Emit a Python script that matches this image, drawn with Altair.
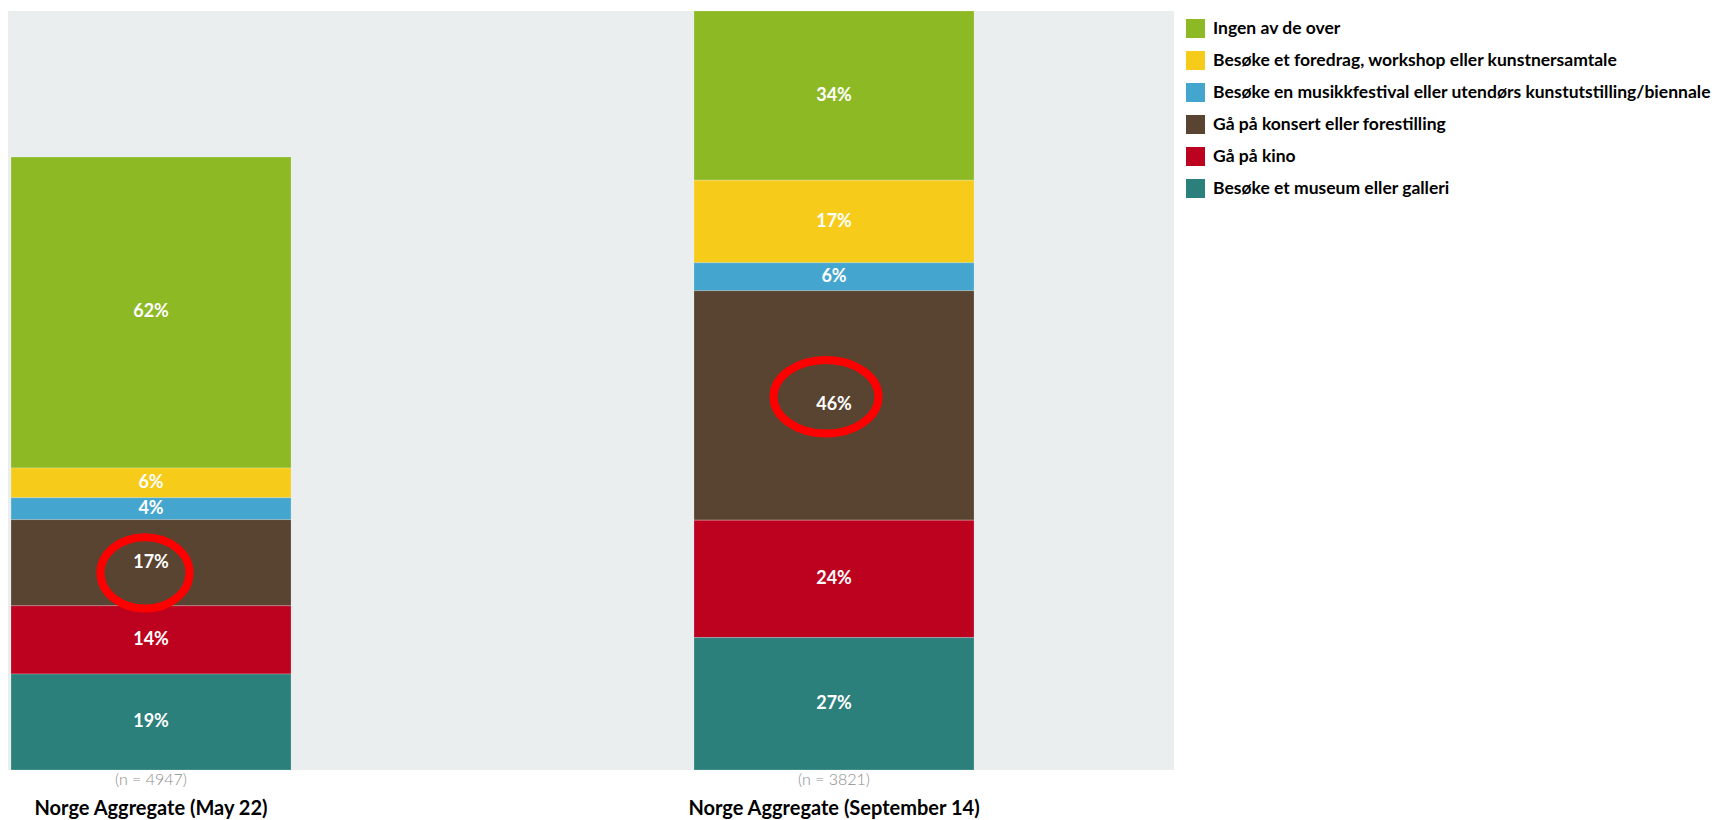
import altair as alt
import pandas as pd

# ---- data ----
categories = ["Norge Aggregate (May 22)", "Norge Aggregate (September 14)"]
n_labels = ["(n = 4947)", "(n = 3821)"]
series = [
    "Ingen av de over",
    "Besøke et foredrag, workshop eller kunstnersamtale",
    "Besøke en musikkfestival eller utendørs kunstutstilling/biennale",
    "Gå på konsert eller forestilling",
    "Gå på kino",
    "Besøke et museum eller galleri",
]
colors = ["#8DB924", "#F7CB1A", "#44A6CF", "#584431", "#BD0220", "#2C807B"]
values_may = [62.45, 6.0, 4.4, 17.3, 13.7, 19.3]
values_sep = [34.0, 16.6, 5.6, 46.1, 23.6, 26.6]
# highlighted (circled) segment centres, in data units
highlight_values = [39.6, 75.0]

rows = []
for cat, vals in zip(categories, [values_may, values_sep]):
    for i, (s, v) in enumerate(zip(series, vals)):
        rows.append({"category": cat, "series": s, "value": v, "order": len(series) - 1 - i})
df = pd.DataFrame(rows)
ymax = max(sum(values_may), sum(values_sep))

nl = pd.DataFrame({"category": categories, "n": n_labels})
hl = pd.DataFrame({"category": categories, "value": highlight_values, "idx": [0, 1]})

W, H = 1166, 759
FONT = "Lato"

xscale = alt.Scale(domain=categories, paddingInner=0.59, paddingOuter=0.1486, align=0.0148, round=False)
yscale = alt.Scale(domain=[0, ymax], nice=False, zero=True)

base = alt.Chart(df).transform_stack(
    stack="value", groupby=["category"], as_=["y0", "y1"],
    sort=[alt.SortField("order", order="ascending")],
).transform_calculate(
    mid="(datum.y0 + datum.y1) / 2",
    label="format(datum.value, '.0f') + '%'",
)

bars = base.mark_bar(stroke="white", strokeWidth=0.6, strokeOpacity=0.35).encode(
    x=alt.X("category:N", scale=xscale, axis=None),
    y=alt.Y("y0:Q", scale=yscale, axis=None),
    y2="y1:Q",
    color=alt.Color(
        "series:N",
        scale=alt.Scale(domain=series, range=colors),
        legend=alt.Legend(
            title=None, orient="none", legendX=1178, legendY=8,
            symbolType="square", symbolSize=361, symbolStrokeWidth=0,
            symbolOpacity=1, labelFont=FONT, labelFontSize=17.5,
            labelFontWeight="bold", labelColor="#000000", labelLimit=600,
            rowPadding=13, labelOffset=8, padding=0, direction="vertical",
        ),
    ),
)

texts = base.mark_text(font=FONT, fontSize=18, fontWeight="bold", color="white", baseline="middle").encode(
    x=alt.X("category:N", scale=xscale, axis=None),
    y=alt.Y("mid:Q", scale=yscale, axis=None),
    text="label:N",
)

nchart = alt.Chart(nl).mark_text(font=FONT, fontSize=16, fontWeight=300, color="#8C8C8C", baseline="middle").encode(
    x=alt.X("category:N", scale=xscale, axis=None),
    y=alt.value(H + 10),
    text="n:N",
)
catlab = alt.Chart(nl).mark_text(font=FONT, fontSize=20, fontWeight="bold", color="#000000", baseline="middle").encode(
    x=alt.X("category:N", scale=xscale, axis=None),
    y=alt.value(H + 39),
    text="category:N",
)

ell1 = alt.Chart(hl).transform_filter("datum.idx == 0").mark_point(
    shape="M-1,0A1,0.80,0,1,1,1,0A1,0.80,0,1,1,-1,0Z", size=7921,
    filled=False, stroke="#FF0000", strokeWidth=8, opacity=1, xOffset=-6,
).encode(
    x=alt.X("category:N", scale=xscale, axis=None),
    y=alt.Y("value:Q", scale=yscale, axis=None),
)
ell2 = alt.Chart(hl).transform_filter("datum.idx == 1").mark_point(
    shape="M-1,0A1,0.70,0,1,1,1,0A1,0.70,0,1,1,-1,0Z", size=11025,
    filled=False, stroke="#FF0000", strokeWidth=8, opacity=1, xOffset=-8,
).encode(
    x=alt.X("category:N", scale=xscale, axis=None),
    y=alt.Y("value:Q", scale=yscale, axis=None),
)

chart = alt.layer(bars, texts, ell1, ell2, nchart, catlab).properties(
    width=W, height=H,
    padding={"left": 0, "top": 2, "right": 0, "bottom": 0},
    background="white",
).configure_view(stroke=None, fill="#EAEEEF")

chart.save("out.html", embed_options={"renderer": "svg", "actions": False})
